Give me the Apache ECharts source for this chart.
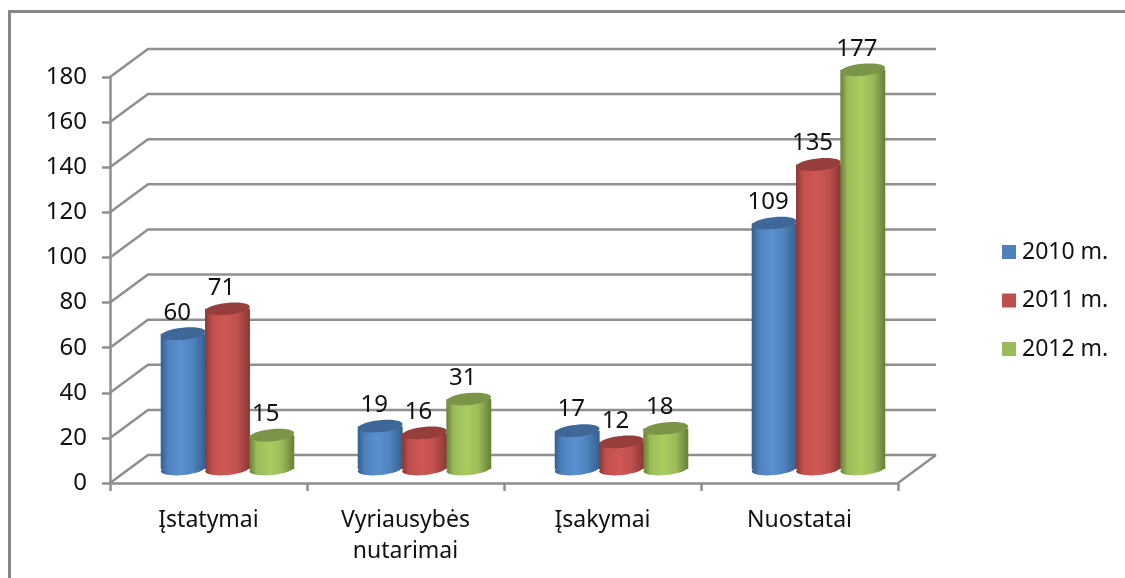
<!DOCTYPE html>
<html>
<head>
<meta charset="utf-8">
<style>html,body{margin:0;padding:0;background:#fff}#c{width:1125px;height:578px}</style>
<script src="https://cdn.jsdelivr.net/npm/echarts@6/dist/echarts.min.js"></script>
</head>
<body>
<div id="c"></div>
<script>
var categories = ['Įstatymai', 'Vyriausybės\nnutarimai', 'Įsakymai', 'Nuostatai'];
var seriesNames = ['2010 m.', '2011 m.', '2012 m.'];
var values2010 = [60, 19, 17, 109];
var values2011 = [71, 16, 12, 135];
var values2012 = [15, 31, 18, 177];
var yTicks = [0, 20, 40, 60, 80, 100, 120, 140, 160, 180];

var FONT = '"Noto Sans", sans-serif';
var GREY = '#8f8f8f';
var DX = 38, DY = 28;      // depth of the fake 3D box
var palettes = [
  {base:'#4f81bd', edge:'#34608f', light:'#5a90d2', top:'#3f6898'},
  {base:'#c0504d', edge:'#8a3735', light:'#d05855', top:'#953e3c'},
  {base:'#9bbb59', edge:'#667f37', light:'#a9cd60', top:'#7a9548'}
];

function cylinder(si) {
  var p = palettes[si];
  return function (params, api) {
    var v = api.value(1);
    var band = api.size([1, 0])[0];
    var c = api.coord([api.value(0), v]);
    var base = api.coord([api.value(0), 0]);
    var step = band * 0.225;
    var w = band * 0.228;
    var cx = c[0] + DX / 2 + (si - 1) * step;
    var yTop = c[1] - DY / 2, yBase = base[1] - DY / 2;
    var grad = {type:'linear', x:0, y:0, x2:1, y2:0, colorStops:[
      {offset:0, color:p.edge}, {offset:0.16, color:p.base}, {offset:0.45, color:p.light},
      {offset:0.72, color:p.base}, {offset:1, color:p.edge}]};
    var rot = 0.1, ry = 6;
    return {type:'group', children:[
      {type:'ellipse', shape:{cx:cx, cy:yBase, rx:w / 2, ry:ry}, rotation:rot, originX:cx, originY:yBase, style:{fill:grad}},
      {type:'rect', shape:{x:cx - w / 2, y:yTop, width:w, height:yBase - yTop}, style:{fill:grad}},
      {type:'ellipse', shape:{cx:cx, cy:yTop, rx:w / 2, ry:ry}, rotation:rot, originX:cx, originY:yTop, style:{fill:p.top}},
      {type:'text', x:cx - 6, y:yTop - 21, style:{text:String(v), fill:'#111', font:'24px ' + FONT, align:'center', verticalAlign:'middle'}}
    ]};
  };
}

function wall(params, api) {
  var v = api.value(0);
  var cs = params.coordSys;
  var y = api.coord([0, v])[1];
  var x0 = cs.x, x1 = cs.x + cs.width;
  var line = {stroke:GREY, lineWidth:2.5, fill:null};
  var kids = [{type:'polyline', shape:{points:[[x0, y], [x0 + DX, y - DY], [x1 + DX, y - DY]]}, style:line}];
  if (v === 0) kids.push({type:'line', shape:{x1:x1, y1:y, x2:x1 + DX, y2:y - DY}, style:line});
  return {type:'group', children:kids};
}

var allValues = [values2010, values2011, values2012];
var series = [{
  type:'custom', name:'wall', silent:true, z:1, renderItem:wall,
  coordinateSystem:'cartesian2d', encode:{y:0}, data:yTicks.map(function (t) { return [t]; })
}];
seriesNames.forEach(function (n, si) {
  series.push({
    type:'custom', name:n, z:3 + si, renderItem:cylinder(si), coordinateSystem:'cartesian2d',
    itemStyle:{color:palettes[si].base},
    encode:{x:0, y:1},
    data:allValues[si].map(function (v, i) { return [i, v]; })
  });
});

var chart = echarts.init(document.getElementById('c'), null, {renderer:'canvas'});
chart.setOption({
  animation:false,
  backgroundColor:'#fff',
  color:palettes.map(function (p) { return p.base; }),
  grid:{left:110, top:77, right:227, bottom:95},
  legend:{
    orient:'vertical', left:997, top:233, icon:'rect', itemWidth:14, itemHeight:14, itemGap:20.5, selectedMode:false,
    data:seriesNames,
    textStyle:{fontFamily:FONT, fontSize:23, color:'#111', padding:[0, 0, 0, 1], height:28, lineHeight:28}
  },
  xAxis:{
    type:'category', data:categories, boundaryGap:true,
    axisLine:{lineStyle:{color:GREY, width:2.5}},
    axisTick:{show:true, alignWithLabel:false, length:8, lineStyle:{color:GREY, width:2.5}},
    axisLabel:{fontFamily:FONT, fontSize:23, color:'#111', margin:22, lineHeight:31, interval:0}
  },
  yAxis:{
    type:'value', min:0, max:180, interval:20,
    axisLine:{show:true, lineStyle:{color:GREY, width:2.5}},
    axisTick:{show:true, length:8, lineStyle:{color:GREY, width:2.5}},
    splitLine:{show:false},
    axisLabel:{fontFamily:FONT, fontSize:24, color:'#111', margin:23, padding:[6, 0, 0, 0]}
  },
  graphic:[{
    type:'polyline', silent:true, z:0,
    shape:{points:[[9.5, 600], [9.5, 11.5], [1140, 11.5]]},
    style:{stroke:'#868686', lineWidth:3, fill:null}
  }],
  series:series
});
</script>
</body>
</html>
